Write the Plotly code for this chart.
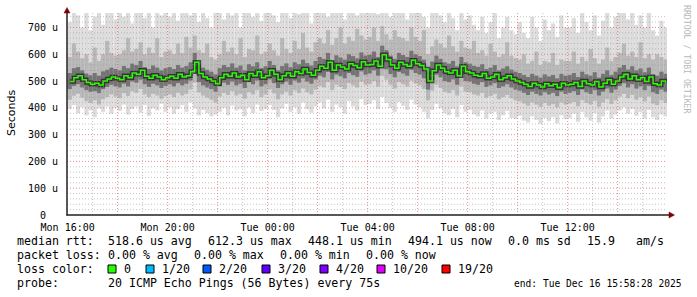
import numpy as np
import pandas as pd
import plotly.graph_objects as go

# ---------------- data ----------------
col_times = pd.date_range("2025-12-15 16:05", periods=144, freq="10min")

median_us = [
    498, 512, 520, 505, 495, 488, 492, 485, 500, 508, 515, 510,
    505, 520, 512, 530, 525, 540, 518, 510, 522, 515, 505, 512,
    518, 510, 525, 515, 520, 535, 570, 528, 515, 508, 500, 490,
    512, 525, 518, 530, 515, 522, 505, 528, 520, 535, 512, 520,
    540, 525, 505, 520, 530, 518, 535, 528, 545, 532, 522, 540,
    555, 548, 570, 540, 560, 552, 545, 565, 558, 550, 572, 560,
    562, 575, 555, 598, 580, 560, 548, 570, 562, 555, 578, 565,
    558, 545, 500, 538, 560, 548, 535, 530, 540, 520, 555, 535,
    530, 522, 518, 528, 510, 515, 525, 505, 512, 520, 508, 500,
    495, 488, 480, 492, 485, 478, 490, 482, 488, 475, 492, 485,
    488, 495, 480, 500, 490, 485, 498, 478, 492, 505, 488, 500,
    515, 525, 508, 520, 505, 512, 498, 515, 490, 485, 500, 492,
]
smoke_p25 = [
    470, 482, 488, 476, 466, 460, 462, 455, 470, 478, 486, 480,
    476, 490, 480, 498, 494, 505, 488, 478, 490, 484, 474, 482,
    488, 480, 492, 484, 490, 502, 530, 496, 484, 476, 470, 460,
    480, 494, 486, 498, 484, 490, 474, 496, 488, 502, 480, 488,
    506, 492, 474, 488, 498, 486, 502, 494, 510, 498, 490, 506,
    520, 514, 534, 506, 524, 518, 510, 530, 522, 516, 536, 524,
    528, 540, 520, 560, 544, 526, 514, 534, 528, 520, 542, 530,
    524, 510, 468, 504, 524, 514, 500, 496, 506, 486, 520, 500,
    498, 490, 486, 496, 478, 484, 492, 474, 480, 488, 476, 468,
    464, 456, 448, 460, 452, 446, 458, 450, 456, 444, 460, 452,
    456, 462, 448, 468, 458, 452, 466, 446, 460, 472, 456, 468,
    482, 492, 476, 488, 472, 480, 466, 482, 458, 452, 468, 460,
]
smoke_p75 = [
    530, 548, 552, 540, 528, 522, 530, 520, 536, 542, 550, 545,
    540, 556, 548, 565, 560, 575, 552, 545, 558, 550, 540, 548,
    552, 545, 560, 550, 556, 570, 605, 562, 550, 542, 535, 525,
    548, 560, 552, 566, 550, 558, 540, 563, 555, 570, 548, 555,
    575, 560, 540, 556, 566, 552, 570, 563, 580, 567, 558, 575,
    590, 583, 605, 575, 596, 588, 580, 600, 593, 585, 607, 595,
    598, 610, 590, 632, 615, 595, 583, 605, 597, 590, 613, 600,
    593, 580, 536, 573, 595, 583, 570, 565, 575, 555, 590, 570,
    565, 557, 553, 563, 545, 550, 560, 540, 547, 555, 543, 535,
    530, 523, 515, 527, 520, 513, 525, 517, 523, 510, 527, 520,
    523, 530, 515, 535, 525, 520, 533, 513, 527, 540, 523, 535,
    550, 560, 543, 555, 540, 547, 533, 550, 525, 520, 535, 527,
]
smoke_p10 = [
    430, 445, 452, 438, 425, 418, 428, 412, 432, 440, 450, 442,
    436, 455, 444, 462, 456, 470, 450, 440, 452, 446, 434, 444,
    450, 440, 456, 446, 452, 468, 495, 458, 446, 438, 430, 420,
    442, 456, 448, 462, 446, 452, 434, 458, 450, 466, 440, 450,
    468, 454, 432, 450, 460, 446, 465, 455, 472, 458, 450, 468,
    482, 476, 496, 466, 486, 478, 470, 492, 484, 476, 498, 486,
    488, 500, 480, 520, 505, 486, 472, 496, 488, 480, 502, 490,
    484, 470, 428, 464, 486, 474, 460, 455, 466, 446, 480, 460,
    458, 450, 446, 456, 438, 444, 452, 432, 440, 448, 436, 428,
    424, 416, 408, 420, 412, 404, 418, 408, 414, 402, 420, 412,
    416, 422, 406, 428, 418, 412, 426, 404, 420, 432, 414, 428,
    442, 452, 436, 448, 430, 440, 424, 442, 416, 410, 428, 418,
]
smoke_p90 = [
    590, 640, 610, 585, 600, 570, 625, 575, 600, 650, 605, 595,
    600, 615, 660, 610, 620, 645, 600, 625, 605, 660, 590, 610,
    615, 600, 640, 605, 665, 625, 670, 615, 605, 640, 590, 580,
    600, 650, 610, 625, 600, 660, 590, 620, 615, 670, 600, 610,
    640, 615, 595, 660, 620, 605, 650, 620, 680, 625, 610, 645,
    660, 640, 690, 635, 660, 700, 640, 665, 650, 695, 670, 655,
    665, 700, 650, 705, 675, 655, 690, 665, 660, 650, 700, 665,
    650, 690, 600, 630, 655, 640, 625, 670, 630, 610, 650, 625,
    620, 650, 605, 615, 595, 640, 610, 590, 600, 645, 595, 585,
    580, 600, 565, 575, 610, 560, 575, 570, 605, 560, 580, 575,
    575, 610, 565, 590, 575, 620, 585, 565, 580, 625, 575, 590,
    605, 640, 595, 610, 590, 645, 585, 600, 580, 600, 590, 580,
]
smoke_min = [
    395, 410, 380, 402, 372, 390, 365, 398, 385, 405, 378, 400,
    388, 412, 375, 395, 405, 382, 410, 370, 398, 390, 415, 385,
    402, 378, 395, 410, 385, 420, 398, 372, 392, 380, 368, 375,
    385, 400, 372, 408, 390, 395, 368, 402, 380, 412, 388, 395,
    410, 392, 365, 398, 415, 385, 402, 378, 420, 395, 382, 405,
    420, 398, 430, 385, 412, 402, 378, 425, 405, 390, 432, 410,
    415, 428, 395, 440, 418, 400, 385, 422, 408, 392, 430, 412,
    402, 385, 360, 392, 415, 398, 380, 372, 395, 365, 410, 385,
    392, 375, 368, 390, 360, 378, 385, 355, 372, 388, 362, 358,
    370, 352, 345, 368, 355, 340, 362, 350, 365, 342, 372, 358,
    362, 378, 348, 385, 365, 352, 380, 345, 368, 390, 360, 375,
    390, 402, 378, 395, 370, 385, 360, 392, 365, 355, 375, 368,
]
smoke_max = [
    720, 760, 745, 700, 760, 690, 740, 760, 710, 760, 755, 730,
    760, 740, 760, 715, 760, 760, 735, 760, 700, 760, 745, 760,
    740, 760, 725, 760, 760, 745, 760, 720, 760, 735, 700, 760,
    760, 730, 760, 745, 760, 700, 760, 760, 740, 760, 725, 760,
    760, 745, 720, 760, 760, 735, 760, 750, 760, 760, 715, 760,
    760, 760, 740, 760, 760, 760, 730, 760, 760, 745, 760, 760,
    760, 760, 750, 760, 760, 740, 760, 760, 760, 730, 760, 760,
    760, 740, 700, 760, 760, 745, 720, 760, 735, 690, 760, 730,
    745, 710, 690, 740, 680, 720, 760, 660, 700, 740, 690, 675,
    720, 680, 660, 740, 700, 650, 730, 690, 715, 665, 745, 700,
    700, 735, 680, 760, 720, 690, 745, 670, 725, 760, 700, 740,
    760, 760, 730, 760, 710, 745, 700, 760, 690, 670, 725, 700,
]

y_tick_vals = [0, 100, 200, 300, 400, 500, 600, 700]
y_tick_text = ["0\u00a0\u00a0", "100 u", "200 u", "300 u", "400 u", "500 u", "600 u", "700 u"]
x_tick_vals = pd.date_range("2025-12-15 16:00", periods=12, freq="2h")
x_tick_text = ["Mon 16:00", "", "Mon 20:00", "", "Tue 00:00", "", "Tue 04:00", "",
               "Tue 08:00", "", "Tue 12:00", ""]

row1 = ["median rtt:", "518.6 us avg", "612.3 us max", "448.1 us min", "494.1 us now",
        "0.0 ms sd", "15.9", "am/s"]
row2 = ["packet loss:", "0.00 % avg", "0.00 % max", "0.00 % min", "0.00 % now"]
row3_title = "loss color:"
loss_labels = ["0", "1/20", "2/20", "3/20", "4/20", "10/20", "19/20"]
loss_colors = ["#26ff00", "#00b8ff", "#0059ff", "#5e00ff", "#7e00ff", "#dd00ff", "#ff0000"]
row4 = ["probe:", "20 ICMP Echo Pings (56 Bytes) every 75s"]
end_text = "end: Tue Dec 16 15:58:28 2025"

# ---------------- geometry ----------------
W, H = 697, 297
L, R, T, B = 67, 667, 13, 215
Y_MAX = 754


def px(x):
    return (x - L) / (R - L)


def py(y):
    return (B - y) / (B - T)


MONO = "DejaVu Sans Mono"

fig = go.Figure()

lo_hi = [(smoke_min, smoke_max, "#dcdcdc"),
         (smoke_p10, smoke_p90, "#b8b8b8"),
         (smoke_p25, smoke_p75, "#747474")]
for lo, hi, col in lo_hi:
    lo = np.array(lo, dtype=float)
    hi = np.array(hi, dtype=float)
    fig.add_trace(go.Bar(x=col_times, y=hi - lo, base=lo, width=600000,
                         marker=dict(color=col, line=dict(width=0)),
                         hoverinfo="skip", showlegend=False))

fig.add_trace(go.Scatter(x=col_times, y=median_us, mode="lines",
                         line=dict(color="rgba(25,25,25,0.7)", width=4.5, shape="hv"),
                         hoverinfo="skip", showlegend=False))
fig.add_trace(go.Scatter(x=col_times, y=median_us, mode="lines",
                         line=dict(color="#26ff00", width=1.5, shape="hv"),
                         showlegend=False))

x0 = pd.Timestamp("2025-12-15 15:58:28")
x1 = pd.Timestamp("2025-12-16 15:58:28")

shapes = []
MINOR = "rgba(150,150,150,0.55)"
MAJOR = "rgba(222,80,80,0.65)"
# grid on top (rrdtool style)
for t in pd.date_range("2025-12-15 17:00", periods=23, freq="1h"):
    major = (t.hour % 2 == 0)
    shapes.append(dict(type="line", xref="x", yref="paper", x0=t, x1=t, y0=0, y1=1,
                       layer="above",
                       line=dict(color=MAJOR if major else MINOR, width=1, dash="1px,2px")))
for v in range(20, 741, 20):
    major = (v % 100 == 0)
    shapes.append(dict(type="line", xref="paper", yref="y", x0=0, x1=1, y0=v, y1=v,
                       layer="above",
                       line=dict(color=MAJOR if major else MINOR, width=1, dash="1px,2px")))
# axes with arrows
AX = "#202020"
shapes.append(dict(type="line", xref="paper", yref="paper", x0=px(67), x1=px(67),
                   y0=py(215.5), y1=py(10), line=dict(color=AX, width=1.5), layer="above"))
shapes.append(dict(type="line", xref="paper", yref="paper", x0=px(66.5), x1=px(671),
                   y0=py(215), y1=py(215), line=dict(color=AX, width=1.5), layer="above"))
shapes.append(dict(type="path", xref="paper", yref="paper",
                   path=f"M {px(64)},{py(13)} L {px(67)},{py(7.5)} L {px(70)},{py(13)} Z",
                   fillcolor="#7f0000", line=dict(color="#7f0000", width=0.5), layer="above"))
shapes.append(dict(type="path", xref="paper", yref="paper",
                   path=f"M {px(669)},{py(212)} L {px(674.5)},{py(215)} L {px(669)},{py(218)} Z",
                   fillcolor="#7f0000", line=dict(color="#7f0000", width=0.5), layer="above"))

annotations = []


def txt(s, x, y, size=11.6, color="black", family=MONO, angle=0, xanchor="left"):
    annotations.append(dict(text=s, xref="paper", yref="paper", x=px(x), y=py(y),
                            xanchor=xanchor, yanchor="middle", showarrow=False,
                            textangle=angle, borderpad=0,
                            font=dict(family=family, size=size, color=color)))


for s, x in zip(row1, [16, 107, 207, 307, 407, 507, 586, 635]):
    txt(s, x, 241)
for s, x in zip(row2, [16, 107, 193, 279, 365]):
    txt(s, x, 255)
txt(row3_title, 16, 269)
box_x = [108, 146, 203, 262, 320, 377, 442]
for lab, col, bx in zip(loss_labels, loss_colors, box_x):
    shapes.append(dict(type="rect", xref="paper", yref="paper",
                       x0=px(bx), x1=px(bx + 8), y0=py(265), y1=py(273),
                       fillcolor=col, line=dict(color="black", width=1)))
    txt(lab, bx + 15, 269)
for s, x in zip(row4, [16, 107]):
    txt(s, x, 283)
txt(end_text, 513, 283, size=9.6)

txt("Seconds", 11, 113, size=11, family="DejaVu Sans", angle=-90, xanchor="center")
txt("RRDTOOL / TOBI OETIKER", 687, 59, size=8.2, color="#b8b8b8", angle=90, xanchor="center")

fig.update_layout(
    width=W, height=H,
    margin=dict(l=L, r=W - R, t=T, b=H - B, pad=0),
    paper_bgcolor="white", plot_bgcolor="white",
    barmode="overlay", showlegend=False,
    shapes=shapes, annotations=annotations,
    xaxis=dict(type="date", range=[x0, x1], showgrid=False, zeroline=False,
               showline=False, tickmode="array", tickvals=x_tick_vals,
               ticktext=x_tick_text, ticks="", ticklabelstandoff=5,
               tickfont=dict(family=MONO, size=10, color="black"), fixedrange=True),
    yaxis=dict(range=[0, Y_MAX], showgrid=False, zeroline=False, showline=False,
               tickmode="array", tickvals=y_tick_vals, ticktext=y_tick_text,
               ticks="", ticklabelstandoff=8,
               tickfont=dict(family=MONO, size=10, color="black"), fixedrange=True),
)

fig.write_html("out.html")
